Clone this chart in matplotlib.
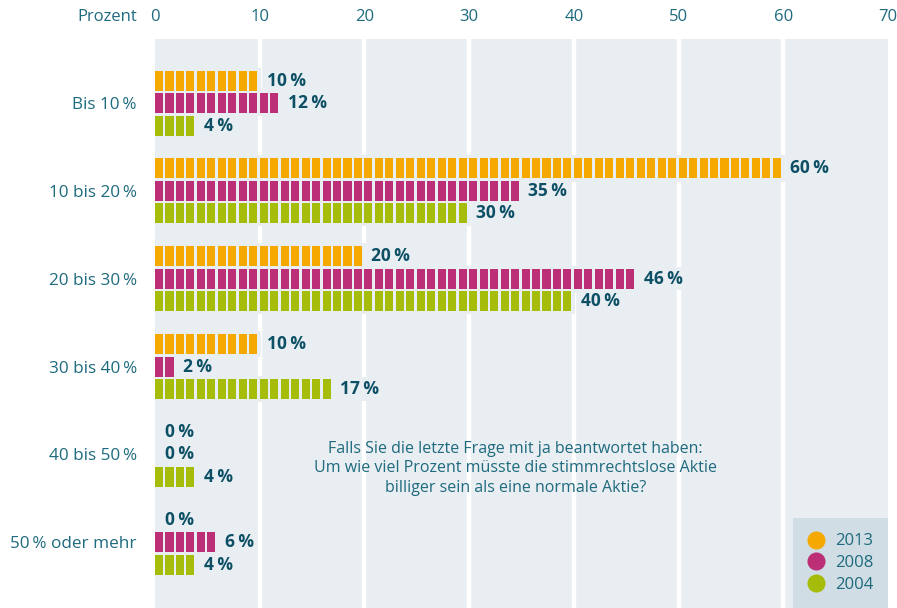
import numpy as np
import matplotlib.pyplot as plt
from matplotlib.lines import Line2D

plt.rcParams['font.family'] = ['Open Sans', 'DejaVu Sans']

categories = ["Bis 10\u2009%", "10 bis 20\u2009%", "20 bis 30\u2009%",
              "30 bis 40\u2009%", "40 bis 50\u2009%", "50\u2009% oder mehr"]
years = ["2013", "2008", "2004"]
values_2013 = [10, 60, 20, 10, 0, 0]
values_2008 = [12, 35, 46, 2, 0, 6]
values_2004 = [4, 30, 40, 17, 4, 4]
x_ticks = [0, 10, 20, 30, 40, 50, 60, 70]
question = ("Falls Sie die letzte Frage mit ja beantwortet haben:\n"
            "Um wie viel Prozent müsste die stimmrechtslose Aktie\n"
            "billiger sein als eine normale Aktie?")

colors = ["#F5A800", "#BC2F77", "#A5BC0A"]
panel = "#E9EEF2"
legend_bg = "#D0DDE4"
text_col = "#1E6A7E"
label_col = "#0D5066"

series = [values_2013, values_2008, values_2004]
row_offsets = [-0.256, 0.0, 0.256]
bar_h = 0.228
seg_w = 0.77

fig = plt.figure(figsize=(8.97, 6.08), dpi=100)
ax = fig.add_axes([155 / 897, 0.0, 733 / 897, 569 / 608])
ax.set_facecolor(panel)
for s in ax.spines.values():
    s.set_visible(False)

# white grid lines behind everything
for x in x_ticks[1:-1]:
    ax.axvline(x, color="white", lw=3.2, zorder=1)

ypos = np.arange(len(categories))
for vals, col, off in zip(series, colors, row_offsets):
    for i, v in enumerate(vals):
        y = ypos[i] + off
        if v > 0:
            # panel-coloured backing so grid lines stop around the bar
            ax.barh(y, v + 0.25, left=-0.1, height=bar_h + 0.07,
                    color=panel, zorder=2)
            ax.barh(np.full(v, y), seg_w, left=np.arange(v),
                    height=bar_h, color=col, zorder=3)
        ax.annotate(f"{v}\u2009%", (v, y), xytext=(5 if v else 7, 0),
                    textcoords="offset points", va="center", ha="left",
                    fontsize=12.5, fontweight="bold", color=label_col,
                    zorder=4,
                    bbox=dict(boxstyle="square,pad=0.15", fc=panel, ec="none"))

ax.set_xlim(0, 70)
ax.set_ylim(5.75, -0.73)
ax.xaxis.tick_top()
ax.set_xticks(x_ticks)
ax.tick_params(axis="x", length=0, pad=10, labelsize=12, labelcolor=text_col)
ax.set_yticks(ypos)
ax.set_yticklabels(categories)
ax.tick_params(axis="y", length=0, pad=13, labelsize=12.3, labelcolor=text_col)

ax.text(-18 / 733, 1 + 14 / 569, "Prozent", transform=ax.transAxes,
        ha="right", va="bottom", fontsize=12, color=text_col)

ax.text(34.4, 4.16, question, ha="center", va="center", fontsize=11.5,
        color=text_col, linespacing=1.3, zorder=4)

handles = [Line2D([], [], ls="none", marker="o", ms=12, color=c) for c in colors]
leg = ax.legend(handles, years, loc="lower right", bbox_to_anchor=(1, 0),
                borderaxespad=0, frameon=True, fancybox=False,
                facecolor=legend_bg, edgecolor="none", framealpha=1,
                fontsize=12, labelcolor=text_col, borderpad=0.9,
                labelspacing=0.35, handlelength=1.0, handletextpad=0.6)
leg.set_zorder(5)

fig.savefig("out.png", dpi=100, facecolor="white")
